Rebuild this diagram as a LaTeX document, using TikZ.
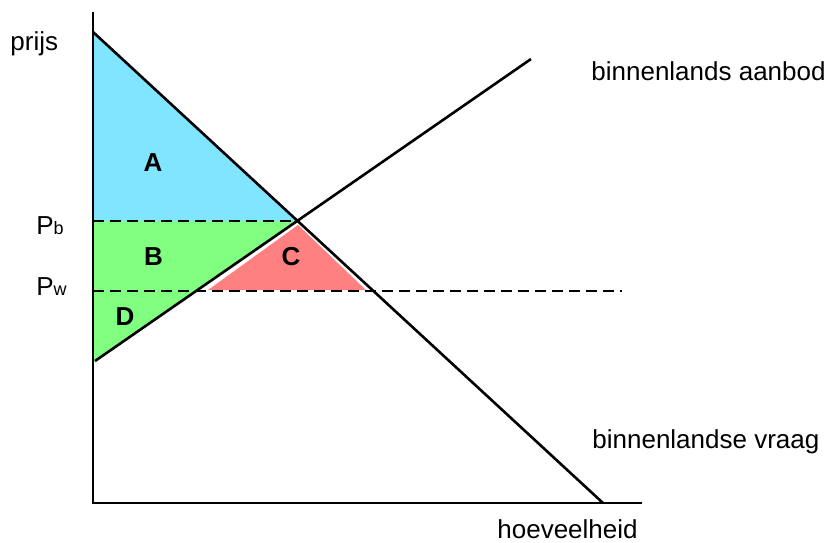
\documentclass[tikz,border=0pt]{standalone}
\usepackage{fontspec}
\setmainfont{Liberation Sans}
\definecolor{areaA}{RGB}{128,229,255}
\definecolor{areaB}{RGB}{128,255,128}
\definecolor{areaC}{RGB}{255,128,128}
\begin{document}
\begin{tikzpicture}[x=0.5pt,y=-0.5pt,
  curve/.style={line width=1.3pt},
  axisline/.style={line width=1.3pt},
  dashline/.style={line width=1.2pt,dash pattern=on 5.5pt off 3pt},
  lbl/.style={font=\fontsize{13}{15}\selectfont,inner sep=0pt,anchor=base west},
  area/.style={font=\fontsize{13}{15}\selectfont\bfseries,inner sep=0pt}]
\useasboundingbox (0,0) rectangle (829,542);
% coordinates
\coordinate (ytop) at (93,12);
\coordinate (O) at (93,503);
\coordinate (xend) at (642,503);
\coordinate (Dtop) at (93,32);
\coordinate (Dbot) at (603,503);
\coordinate (Sbot) at (95,361);
\coordinate (Stop) at (531,59);
\coordinate (E) at (298,221);
\coordinate (Pbl) at (93,221);
\coordinate (Pwl) at (93,291);
\coordinate (Pwr) at (622,291);
% fills
\fill[areaA] (Dtop) -- (E) -- (Pbl) -- cycle;
\fill[areaB] (Pbl) -- (E) -- (Sbot) -- (93,362) -- cycle;
\fill[areaC] (298,225) -- (208,290) -- (366,290) -- cycle;
% dashed price lines
\draw[dashline] (Pbl) -- (E);
\draw[dashline] (Pwl) -- (Pwr);
% curves
\draw[curve] (Dtop) -- (Dbot);
\draw[curve] (Sbot) -- (Stop);
% axes
\draw[axisline] (ytop) -- (O) -- (xend);
% labels
\node[lbl] (prijs) at (10,50) {prijs};
\node[lbl] (pb) at (36,234) {P{\fontsize{9}{9}\selectfont b}};
\node[lbl] (pw) at (36,295) {P{\fontsize{9}{9}\selectfont w}};
\node[lbl] (aanbod) at (591,80) {binnenlands aanbod};
\node[lbl] (vraag) at (592,448) {binnenlandse vraag};
\node[lbl] (hoev) at (497,538) {hoeveelheid};
\node[area] (A) at (153,163) {A};
\node[area] (B) at (153.5,256.5) {B};
\node[area] (C) at (291,256.5) {C};
\node[area] (D) at (125,317) {D};
\end{tikzpicture}
\end{document}
